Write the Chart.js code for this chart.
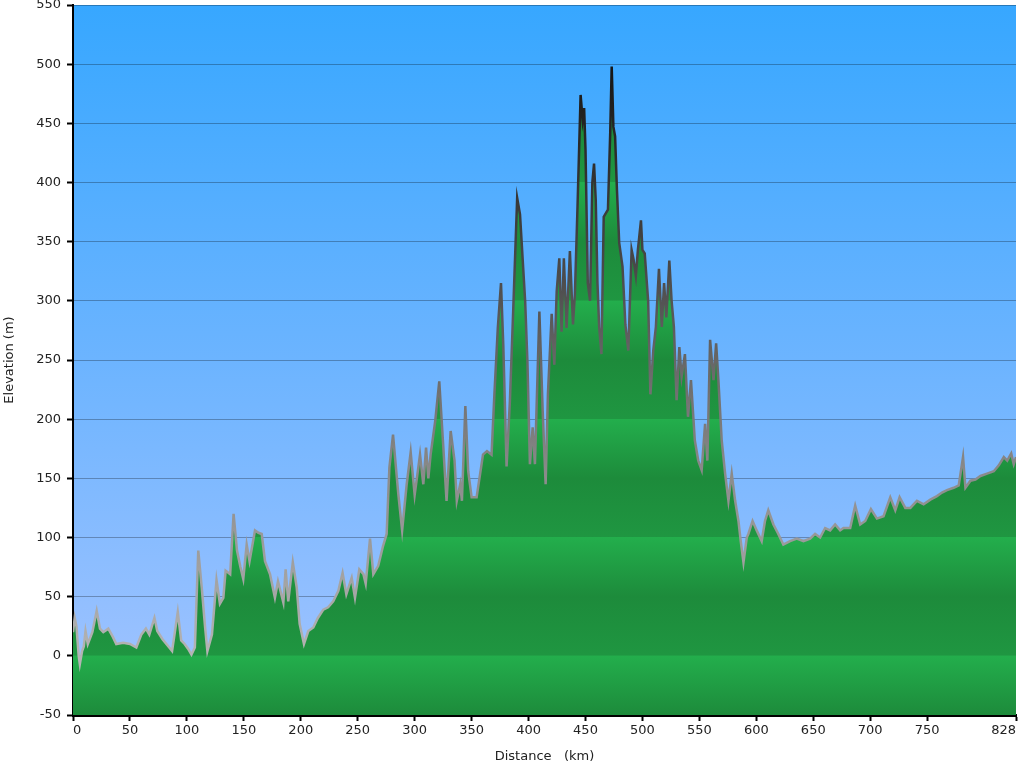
<!DOCTYPE html>
<html>
<head>
<meta charset="utf-8">
<script src="https://cdn.jsdelivr.net/npm/chart.js@4.4.1/dist/chart.umd.min.js"></script>
<style>
  html, body { margin: 0; padding: 0; background: #fff; }
  #wrap { width: 1024px; height: 768px; }
</style>
</head>
<body>
<div id="wrap"><canvas id="profile" width="1024" height="768"></canvas></div>
<script>
// distance along the route (km) and elevation (m)
const distKm = [0, 1.5, 3, 5, 6, 8, 9.5, 11, 13, 17, 20.8, 23.7, 26.6, 31, 35, 38, 44, 50, 55.6, 60,
  64, 67, 71.5, 74, 78.6, 84.5, 87, 92, 95, 98, 101, 104, 107, 110, 113, 116, 118, 122, 126, 129,
  132, 134, 138, 141, 144, 147, 149.5, 152.5, 155, 159.8, 162.8, 165.7, 168.6, 173, 177.3, 180, 184.7, 186.7, 189, 193,
  196.4, 199, 202.8, 206.6, 211, 215, 219.8, 224, 228.5, 233, 236.7, 240, 244.7, 247.6, 251.4, 255, 257, 260.8, 263.7, 268,
  272, 275.4, 277.8, 281, 285.6, 289, 293, 296.5, 300, 304.7, 307.6, 310, 312, 314, 318, 321.6, 325, 328, 331.6, 335,
  337, 340, 341.5, 344.5, 347, 350, 354.4, 360, 363.5, 367.5, 370, 373, 375.8, 377.8, 380.7, 383.6, 386.6, 390, 392.5, 397,
  399, 401.2, 403.6, 405.6, 409.5, 412.4, 415, 417, 420.3, 422.6, 424.7, 427, 429, 431, 433.4, 436.3, 439, 440.7, 443, 445.7,
  447.5, 448.8, 450, 452, 454, 456, 457.5, 459, 460.5, 462, 464, 466, 469.7, 471.7, 473, 474.5, 476, 477.6, 479.6, 482.5,
  485, 487.6, 490.5, 492.2, 494.2, 496, 498.7, 500, 502, 505, 507, 509.5, 511.8, 514.5, 517, 519, 521, 523.6, 525.6, 527.6,
  530, 532.4, 534.4, 537.3, 540, 542.6, 546, 549, 552, 555, 557, 559.4, 562.4, 564.7, 566.7, 569.6, 572.6, 575.5, 578.4, 581.4,
  584.3, 586.3, 588.7, 591.6, 593, 596.7, 600.3, 604.7, 607.6, 610.5, 615, 619.3, 623.7, 629.6, 635.5, 641.4, 647.2, 651.6, 656, 660.4,
  664.8, 669.2, 673.6, 676.5, 682.4, 686.8, 691.2, 695.6, 700.6, 705.9, 711.7, 717.6, 722, 725.8, 730.8, 735.2, 741, 746.9, 752.8, 758.6,
  763, 767.4, 773.3, 777.7, 781.5, 783.6, 788, 792.4, 796.8, 802.6, 808.5, 812.9, 817.3, 820.3, 823.8, 826, 828];
const elevM = [20, 32, 25, 0, -7, 4, 8, 21, 10, 20, 38, 23, 20, 23, 16, 10, 11, 10, 7, 18,
  23, 18, 32, 21, 14, 7, 4, 37, 13, 10, 6, 1, 7, 89, 58, 24, 4, 18, 64, 44,
  49, 72, 69, 120, 89, 75, 65, 94, 80, 106, 104, 103, 80, 69, 49, 63, 45, 73, 46, 79,
  58, 27, 10, 21, 24, 32, 39, 41, 46, 55, 70, 52, 66, 49, 73, 69, 61, 99, 69, 76,
  92, 103, 159, 187, 137, 106, 145, 172, 136, 170, 145, 176, 150, 170, 198, 232, 179, 131, 190, 165,
  131, 145, 131, 211, 156, 134, 134, 170, 173, 170, 221, 277, 315, 263, 160, 215, 294, 387, 373, 300,
  249, 162, 193, 162, 291, 207, 145, 221, 289, 246, 308, 336, 274, 336, 277, 342, 280, 306, 380, 474,
  453, 463, 428, 315, 300, 400, 416, 385, 315, 278, 255, 371, 377, 442, 498, 447, 439, 394, 349, 329,
  280, 258, 343, 335, 321, 343, 368, 343, 340, 300, 221, 258, 278, 327, 278, 315, 286, 334, 300, 278,
  216, 261, 236, 255, 202, 233, 182, 165, 157, 196, 165, 267, 233, 264, 233, 182, 154, 131, 154, 131,
  114, 97, 79, 100, 103, 114, 106, 97, 114, 123, 111, 103, 94, 97, 99, 97, 99, 103, 100, 108,
  106, 111, 106, 108, 108, 127, 111, 114, 124, 116, 118, 134, 123, 134, 125, 125, 131, 128, 132, 135,
  138, 140, 142, 144, 168, 142, 148, 149, 152, 154, 156, 161, 168, 165, 171, 162, 168];
const xTicks = [0, 50, 100, 150, 200, 250, 300, 350, 400, 450, 500, 550, 600, 650, 700, 750, 828];

const FONT = 'DejaVu Sans';

// sky behind the profile: deep blue at the top fading to pale blue near the bottom
const skyPlugin = {
  id: 'sky',
  beforeDraw(chart) {
    const { ctx, chartArea: a } = chart;
    const g = ctx.createLinearGradient(0, a.top, 0, a.bottom);
    g.addColorStop(0, '#37a7ff');
    g.addColorStop(0.5, '#6cb4ff');
    g.addColorStop(1, '#a4c4ff');
    ctx.save();
    ctx.fillStyle = g;
    ctx.fillRect(a.left, a.top, a.right - a.left, a.bottom - a.top);
    ctx.restore();
  }
};

// green fill with a light/dark band every 100 m
function groundFill(context) {
  const chart = context.chart;
  const a = chart.chartArea;
  if (!a) return '#22a84a';
  const ys = chart.scales.y;
  const g = chart.ctx.createLinearGradient(0, a.top, 0, a.bottom);
  const span = a.bottom - a.top;
  const stop = (v, c) => {
    const t = (ys.getPixelForValue(v) - a.top) / span;
    if (t >= 0 && t <= 1) g.addColorStop(t, c);
  };
  for (let k = 6; k >= 0; k--) {
    const v = k * 100;
    stop(v + 0.5, '#1f9641');
    stop(v, '#23ae4c');
    stop(v - 50, '#1d8b3b');
  }
  stop(-50, '#1d873a');
  return g;
}

// profile outline: dark on the high peaks, light grey low down
function edgeColor(context) {
  const chart = context.chart;
  const a = chart.chartArea;
  if (!a) return '#999';
  const ys = chart.scales.y;
  const g = chart.ctx.createLinearGradient(0, ys.getPixelForValue(500), 0, ys.getPixelForValue(0));
  g.addColorStop(0, '#151515');
  g.addColorStop(0.35, '#4a4a4a');
  g.addColorStop(0.7, '#8c8c8c');
  g.addColorStop(1, '#b4b4b4');
  return g;
}

const points = distKm.map((d, i) => ({ x: d, y: elevM[i] }));

new Chart(document.getElementById('profile'), {
  type: 'line',
  data: {
    datasets: [{
      data: points,
      borderColor: edgeColor,
      backgroundColor: groundFill,
      borderWidth: 2.5,
      pointRadius: 0,
      tension: 0,
      fill: 'start'
    }]
  },
  options: {
    responsive: false,
    animation: false,
    layout: { padding: { top: 5, right: 8, left: 0, bottom: 0 } },
    plugins: { legend: { display: false }, tooltip: { enabled: false } },
    scales: {
      x: {
        type: 'linear', min: 0, max: 828,
        afterBuildTicks: s => { s.ticks = xTicks.map(v => ({ value: v })); },
        afterFit: s => { s.height = 53; s.paddingLeft = 0; s.paddingRight = 0; },
        ticks: { color: '#222', font: { family: FONT, size: 13 }, padding: 2, maxRotation: 0, autoSkip: false, align: 'inner' },
        grid: { drawOnChartArea: false, drawTicks: true, tickLength: 6, tickColor: '#000', tickWidth: 2 },
        border: { color: '#000', width: 3 },
        title: { display: true, text: 'Distance   (km)', color: '#222', font: { family: FONT, size: 13 }, padding: { top: 2, bottom: 4 } }
      },
      y: {
        min: -50, max: 550, z: 1,
        afterFit: s => { s.width = 73; s.paddingTop = 0; s.paddingBottom = 0; },
        ticks: { stepSize: 50, color: '#222', font: { family: FONT, size: 13 }, padding: 6 },
        grid: { color: 'rgba(0,0,0,0.28)', lineWidth: 1, tickLength: 6, tickColor: '#000', tickWidth: 2 },
        border: { color: '#000', width: 2 },
        title: { display: true, text: 'Elevation (m)', color: '#222', font: { family: FONT, size: 13 }, padding: { top: 2, bottom: 2 } }
      }
    }
  },
  plugins: [skyPlugin]
});
</script>
</body>
</html>
